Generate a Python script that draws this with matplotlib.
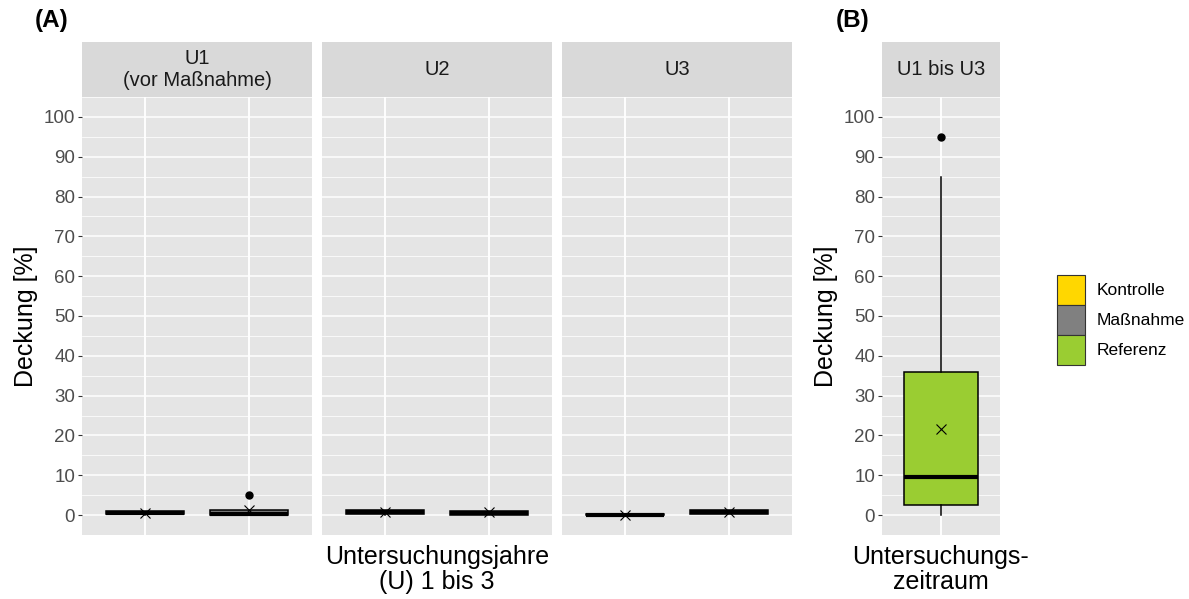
import matplotlib
matplotlib.use("Agg")
import matplotlib.pyplot as plt
from matplotlib.patches import Patch

plt.rcParams['font.family'] = ['Liberation Sans', 'DejaVu Sans']

# ---- data -------------------------------------------------------------
years = ["U1\n(vor Maßnahme)", "U2", "U3"]
groups = ["Kontrolle", "Maßnahme", "Referenz"]
group_colors = ["#FFD700", "#808080", "#9ACD32"]

# per year: q1, median, q3, whisker low, whisker high, mean
kontrolle_q1 = [0.2, 0.3, 0.0]
kontrolle_med = [0.5, 0.7, 0.1]
kontrolle_q3 = [1.0, 1.2, 0.2]
kontrolle_lo = [0.0, 0.0, 0.0]
kontrolle_hi = [1.0, 1.2, 0.2]
kontrolle_mean = [0.6, 0.7, 0.0]

massnahme_q1 = [0.0, 0.0, 0.3]
massnahme_med = [0.3, 0.4, 0.8]
massnahme_q3 = [1.3, 1.0, 1.3]
massnahme_lo = [0.0, 0.0, 0.3]
massnahme_hi = [1.3, 1.0, 1.3]
massnahme_mean = [1.2, 0.7, 0.8]
massnahme_out = [[5.0], [], []]

# Referenz, U1 bis U3 pooled
ref_q1, ref_med, ref_q3 = 2.5, 9.5, 36.0
ref_lo, ref_hi = 0.0, 85.0
ref_mean = 21.5
ref_out = [95.0]

yticks = list(range(0, 101, 10))

# ---- layout ----------------------------------------------------------
W, H = 1189, 599
fig = plt.figure(figsize=(W / 100, H / 100), dpi=100)


def px_axes(x0, y0, x1, y1):
    return fig.add_axes([x0 / W, 1 - y1 / H, (x1 - x0) / W, (y1 - y0) / H])


PANEL_BG = "#E5E5E5"
STRIP_BG = "#D9D9D9"
TICK_COL = "#4D4D4D"
AXIS_TITLE = 18


def style_panel(ax, ncat, show_y):
    ax.set_facecolor(PANEL_BG)
    for s in ax.spines.values():
        s.set_visible(False)
    ax.set_ylim(-5, 105)
    ax.set_xlim(0.4, ncat + 0.6)
    ax.set_yticks(yticks)
    ax.set_yticks([v + 5 for v in range(-10, 101, 10)], minor=True)
    ax.set_xticks(range(1, ncat + 1))
    ax.grid(True, which="major", color="white", linewidth=1.1, zorder=0)
    ax.grid(True, which="minor", axis="y", color="white", linewidth=0.55, zorder=0)
    ax.set_axisbelow(True)
    ax.tick_params(axis="x", which="both", length=0, labelbottom=False)
    ax.tick_params(axis="y", which="minor", length=0)
    if show_y:
        ax.tick_params(axis="y", which="major", length=3, color="#333333",
                       labelsize=13.5, labelcolor=TICK_COL, pad=2)
    else:
        ax.tick_params(axis="y", which="both", length=0, labelleft=False)


def strip(x0, x1, text):
    sa = px_axes(x0, 42, x1, 97)
    sa.set_facecolor(STRIP_BG)
    for s in sa.spines.values():
        s.set_visible(False)
    sa.set_xticks([])
    sa.set_yticks([])
    sa.text(0.5, 0.5, text, ha="center", va="center", fontsize=14.5,
            color="#1A1A1A", linespacing=1.15, transform=sa.transAxes)


def draw_boxes(ax, stats, colors, widths):
    b = ax.bxp(stats, positions=range(1, len(stats) + 1), widths=widths,
               patch_artist=True, showfliers=True, showcaps=False,
               boxprops=dict(edgecolor="black", linewidth=1.1),
               medianprops=dict(color="black", linewidth=3),
               whiskerprops=dict(color="black", linewidth=1.1),
               flierprops=dict(marker="o", markerfacecolor="black",
                               markeredgecolor="black", markersize=5))
    for patch, c in zip(b["boxes"], colors):
        patch.set_facecolor(c)
    return b


facet_x = [(82, 312), (322, 552), (562, 792)]
for i, (x0, x1) in enumerate(facet_x):
    ax = px_axes(x0, 97, x1, 535)
    style_panel(ax, 2, show_y=(i == 0))
    stats = [
        dict(q1=kontrolle_q1[i], med=kontrolle_med[i], q3=kontrolle_q3[i],
             whislo=kontrolle_lo[i], whishi=kontrolle_hi[i], fliers=[]),
        dict(q1=massnahme_q1[i], med=massnahme_med[i], q3=massnahme_q3[i],
             whislo=massnahme_lo[i], whishi=massnahme_hi[i],
             fliers=massnahme_out[i]),
    ]
    draw_boxes(ax, stats, group_colors[:2], 0.75)
    ax.plot([1, 2], [kontrolle_mean[i], massnahme_mean[i]], linestyle="none",
            marker="x", color="black", markersize=7, markeredgewidth=0.8,
            zorder=5)
    strip(x0, x1, years[i])
    if i == 0:
        ax.set_ylabel("Deckung [%]", fontsize=AXIS_TITLE, color="black", labelpad=4)
    if i == 1:
        ax.text(0.5, -0.022, "Untersuchungsjahre\n(U) 1 bis 3", ha="center",
                va="top", fontsize=AXIS_TITLE, linespacing=1.05,
                transform=ax.transAxes)

# panel B
axb = px_axes(882, 97, 1000, 535)
style_panel(axb, 1, show_y=True)
draw_boxes(axb, [dict(q1=ref_q1, med=ref_med, q3=ref_q3, whislo=ref_lo,
                      whishi=ref_hi, fliers=ref_out)], [group_colors[2]], 0.75)
axb.plot([1], [ref_mean], linestyle="none", marker="x", color="black",
         markersize=7, markeredgewidth=0.8, zorder=5)
axb.set_ylabel("Deckung [%]", fontsize=AXIS_TITLE, color="black", labelpad=4)
axb.text(0.5, -0.022, "Untersuchungs-\nzeitraum", ha="center", va="top",
         fontsize=AXIS_TITLE, linespacing=1.05, transform=axb.transAxes)
strip(882, 1000, "U1 bis U3")

fig.text(35 / W, 1 - 21 / H, "(A)", fontsize=17.5, fontweight="bold", va="center")
fig.text(836 / W, 1 - 21 / H, "(B)", fontsize=17.5, fontweight="bold", va="center")

# legend
handles = [Patch(facecolor=c, edgecolor="#333333", linewidth=0.8, label=g)
           for g, c in zip(groups, group_colors)]
fig.legend(handles=handles, loc="center left", bbox_to_anchor=(1057 / W, 1 - 320 / H),
           frameon=False, fontsize=12.5, handlelength=1.6, handleheight=2.28,
           handletextpad=0.69, labelspacing=0.0, borderpad=0, borderaxespad=0)

fig.savefig("out.png", dpi=100, facecolor="white")
